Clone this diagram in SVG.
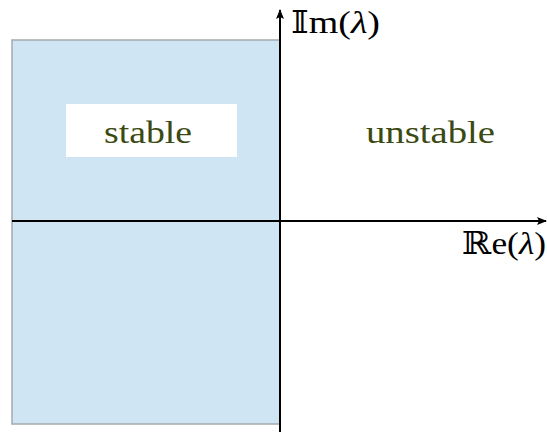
<svg xmlns="http://www.w3.org/2000/svg" width="547" height="432" viewBox="0 0 547 432">
<style>
.lbl{font-family:"Liberation Serif","DejaVu Serif",serif;font-size:32px;fill:#3b4a12}
.ax{font-family:"Liberation Serif","DejaVu Serif",serif;font-size:32px;fill:#000}
.it{font-style:italic}
</style>
<defs>
<marker id="ah" markerWidth="10" markerHeight="8" refX="9" refY="4" orient="auto" markerUnits="userSpaceOnUse">
<path d="M0,0 L10,4 L0,8 L2,4 Z" fill="#000"/>
</marker>
</defs>
<rect width="547" height="432" fill="#fff"/>
<g id="stable-region">
<rect x="12" y="40" width="268" height="384" fill="#d0e5f3" stroke="#a3a9ad" stroke-width="1.5"/>
<rect x="66" y="104" width="171" height="53" fill="#fff"/>
<text class="lbl" x="104" y="143" textLength="88" lengthAdjust="spacingAndGlyphs">stable</text>
</g>
<g id="unstable-region">
<text class="lbl" x="366" y="143" textLength="129" lengthAdjust="spacingAndGlyphs">unstable</text>
</g>
<g id="connectors">
<line x1="12" y1="221" x2="546" y2="221" stroke="#000" stroke-width="2" marker-end="url(#ah)"/>
<line x1="280" y1="432" x2="280" y2="10" stroke="#000" stroke-width="2" marker-end="url(#ah)"/>
</g>
<g id="axis-labels">
<text class="ax" x="291" y="33" textLength="89" lengthAdjust="spacingAndGlyphs">𝕀m(<tspan class="it">λ</tspan>)</text>
<text class="ax" x="462" y="254" textLength="84" lengthAdjust="spacingAndGlyphs">ℝe(<tspan class="it">λ</tspan>)</text>
</g>
</svg>
